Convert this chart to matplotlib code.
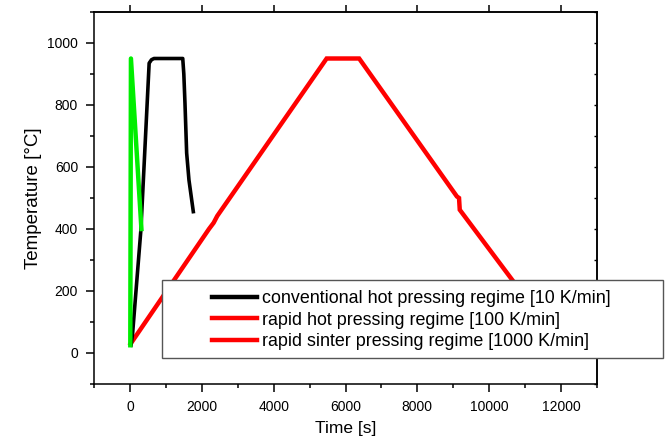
import matplotlib
matplotlib.use('Agg')
import matplotlib.pyplot as plt
from matplotlib.lines import Line2D
from matplotlib.patches import Rectangle
from matplotlib.ticker import MultipleLocator

plt.rcParams['font.family'] = ['Liberation Sans', 'DejaVu Sans']

# conventional hot pressing (black)
conv_t = [30, 75, 305, 397, 535, 600, 670, 1470, 1500, 1532, 1579, 1643, 1764]
conv_T = [25, 64, 397, 612, 935, 946, 950, 950, 900, 806, 645, 558, 456]

# rapid hot pressing (red)
rapid_t = [20, 2200, 2330, 2430, 5475, 6380, 9100, 9160, 9180, 10600, 11900]
rapid_T = [30, 400, 420, 442, 950, 950, 505, 500, 462, 242, 40]

# rapid sinter pressing (green)
sinter_t = [10, 28, 320]
sinter_T = [25, 950, 400]

legend_labels = ['conventional hot pressing regime [10 K/min]',
                 'rapid hot pressing regime [100 K/min]',
                 'rapid sinter pressing regime [1000 K/min]']
legend_colors = ['black', '#ff0000', '#ff0000']

W, H = 665, 441
fig = plt.figure(figsize=(W / 100, H / 100), dpi=100)
ax = fig.add_axes([94 / W, 1 - 384 / H, (597 - 94) / W, (384 - 12) / H])

ax.plot(rapid_t, rapid_T, color='#ff0000', lw=3.2, solid_joinstyle='miter')
ax.plot(conv_t, conv_T, color='black', lw=2.6)
ax.plot(sinter_t, sinter_T, color='#00ee00', lw=3.2)

ax.set_xlim(-1000, 13000)
ax.set_ylim(-100, 1100)
ax.xaxis.set_major_locator(MultipleLocator(2000))
ax.xaxis.set_minor_locator(MultipleLocator(1000))
ax.yaxis.set_major_locator(MultipleLocator(200))
ax.yaxis.set_minor_locator(MultipleLocator(100))

ax.tick_params(which='both', direction='out', width=1.1, labelsize=10, colors='black')
ax.tick_params(which='major', length=5.5, pad=6)
ax.tick_params(which='minor', length=3)
for s in ax.spines.values():
    s.set_linewidth(1.1)

top = ax.secondary_xaxis('top')
top.xaxis.set_major_locator(MultipleLocator(2000))
top.tick_params(direction='out', length=5, width=1.1, labeltop=False)
top.spines['top'].set_linewidth(1.1)
right = ax.secondary_yaxis('right')
right.yaxis.set_major_locator(MultipleLocator(100))
right.tick_params(direction='in', length=2.5, width=1.0, labelright=False)
right.spines['right'].set_linewidth(1.1)

ax.set_xlabel('Time [s]', fontsize=12.5, labelpad=5)
ax.set_ylabel('Temperature [\u00b0C]', fontsize=13.5, labelpad=4)

# legend box sticking out past the right axis
box = Rectangle((162 / W, 1 - 358 / H), (663 - 162) / W, (358 - 280) / H,
                transform=fig.transFigure, facecolor='white', edgecolor='#555555',
                lw=1.0, zorder=5)
fig.patches.append(box)

handles = [Line2D([], [], color=c, lw=3.2) for c in legend_colors]
leg = fig.legend(handles, legend_labels, loc='upper left',
                 bbox_to_anchor=(212 / W, 1 - 290 / H), bbox_transform=fig.transFigure,
                 frameon=False, fontsize=12.9, borderpad=0, borderaxespad=0,
                 handlelength=2.5, handletextpad=0.28, labelspacing=0.26)
leg.set_zorder(6)

fig.savefig('out.png', dpi=100)
